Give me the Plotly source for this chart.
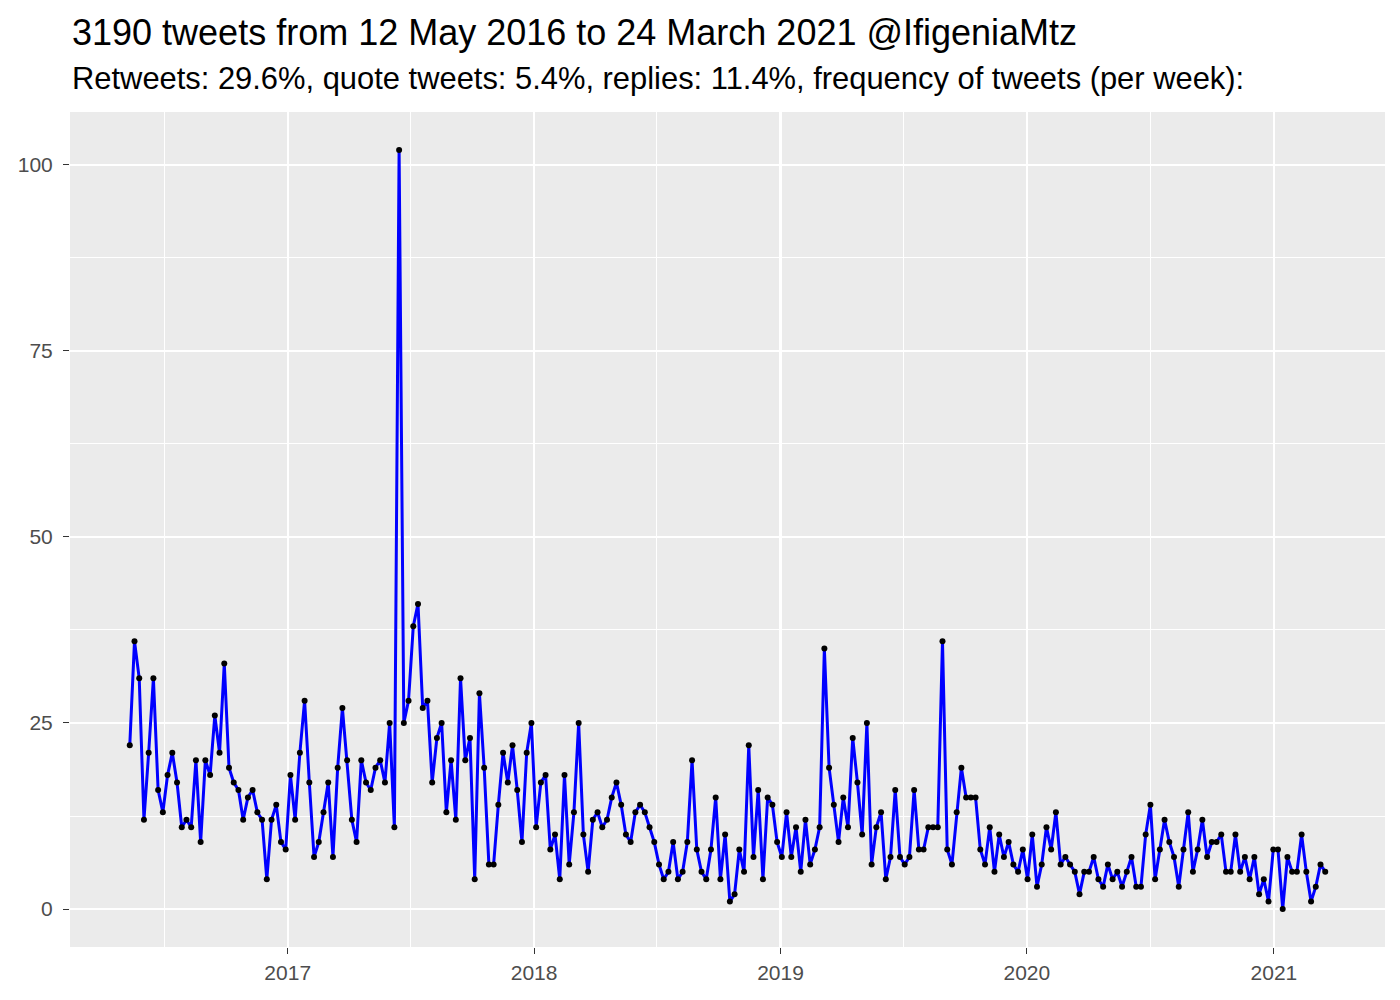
import pandas as pd
import plotly.graph_objects as go

# weekly tweet counts
start_date = "2016-05-12"
tweets_per_week = [
    22, 36, 31, 12, 21, 31, 16, 13, 18, 21, 17, 11, 12, 11, 20, 9, 20, 18, 26, 21, 33, 19, 17,
    16, 12, 15, 16, 13, 12, 4, 12, 14, 9, 8, 18, 12, 21, 28, 17, 7, 9, 13, 17, 7, 19, 27,
    20, 12, 9, 20, 17, 16, 19, 20, 17, 25, 11, 102, 25, 28, 38, 41, 27, 28, 17, 23, 25, 13, 20,
    12, 31, 20, 23, 4, 29, 19, 6, 6, 14, 21, 17, 22, 16, 9, 21, 25, 11, 17, 18, 8, 10, 4,
    18, 6, 13, 25, 10, 5, 12, 13, 11, 12, 15, 17, 14, 10, 9, 13, 14, 13, 11, 9, 6, 4,
    5, 9, 4, 5, 9, 20, 8, 5, 4, 8, 15, 4, 10, 1, 2, 8, 5, 22, 7, 16, 4, 15, 14,
    9, 7, 13, 7, 11, 5, 12, 6, 8, 11, 35, 19, 14, 9, 15, 11, 23, 17, 10, 25, 6, 11, 13,
    4, 7, 16, 7, 6, 7, 16, 8, 8, 11, 11, 11, 36, 8, 6, 13, 19, 15, 15, 15, 8, 6, 11,
    5, 10, 7, 9, 6, 5, 8, 4, 10, 3, 6, 11, 8, 13, 6, 7, 6, 5, 2, 5, 5, 7, 4,
    3, 6, 4, 5, 3, 5, 7, 3, 3, 10, 14, 4, 8, 12, 9, 7, 3, 8, 13, 5, 8, 12, 7,
    9, 9, 10, 5, 5, 10, 5, 7, 4, 7, 2, 4, 1, 8, 8, 0, 7, 5, 5, 10, 5, 1, 3, 6, 5,
]
weeks = pd.date_range(start=start_date, periods=len(tweets_per_week), freq="7D")

title_text = "3190 tweets from 12 May 2016 to 24 March 2021 @IfigeniaMtz"
subtitle_text = ("Retweets: 29.6%, quote tweets: 5.4%, replies: 11.4%, "
                 "frequency of tweets (per week):")
y_ticks = [0, 25, 50, 75, 100]

# ggplot-like 5% expansion of the scales
span = weeks[-1] - weeks[0]
x_range = [weeks[0] - span * 0.05, weeks[-1] + span * 0.05]
y_span = max(tweets_per_week) - min(tweets_per_week)
y_range = [min(tweets_per_week) - 0.05 * y_span, max(tweets_per_week) + 0.05 * y_span]

fig = go.Figure()
fig.add_trace(go.Scatter(
    x=weeks, y=tweets_per_week, mode="lines+markers",
    line=dict(color="#0000FF", width=3),
    marker=dict(color="black", size=6),
    showlegend=False,
))

axis_font = dict(family="Liberation Sans, Arial, sans-serif", size=21, color="#4D4D4D")

fig.update_layout(
    width=1400, height=1000,
    margin=dict(l=62, r=23, t=104, b=61),
    paper_bgcolor="white", plot_bgcolor="#EBEBEB",
    font=dict(family="Liberation Sans, Arial, sans-serif"),
    xaxis=dict(
        range=x_range, type="date",
        tick0="2017-01-01", dtick="M12", tickformat="%Y",
        showgrid=True, gridcolor="white", gridwidth=2.2,
        minor=dict(tick0="2016-07-02", dtick="M6", showgrid=True,
                   gridcolor="white", gridwidth=1.1, ticks=""),
        ticks="outside", ticklen=6, tickwidth=1.3, tickcolor="#333333",
        ticklabelstandoff=1,
        tickfont=axis_font, zeroline=False, showline=False, automargin=False,
    ),
    yaxis=dict(
        range=y_range, tickvals=y_ticks,
        showgrid=True, gridcolor="white", gridwidth=2.2,
        minor=dict(dtick=12.5, tick0=0, showgrid=True,
                   gridcolor="white", gridwidth=1.1, ticks=""),
        ticks="outside", ticklen=6, tickwidth=1.3, tickcolor="#333333",
        ticklabelstandoff=6,
        tickfont=axis_font, zeroline=False, showline=False, automargin=False,
    ),
    annotations=[
        dict(text=title_text, xref="paper", yref="paper", x=0, y=1 + 79 / 833,
             xanchor="left", yanchor="middle", showarrow=False,
             font=dict(size=36, color="black")),
        dict(text=subtitle_text, xref="paper", yref="paper", x=0, y=1 + 33 / 833,
             xanchor="left", yanchor="middle", showarrow=False,
             font=dict(size=30.9, color="black")),
    ],
)

fig.write_html("out.html")
